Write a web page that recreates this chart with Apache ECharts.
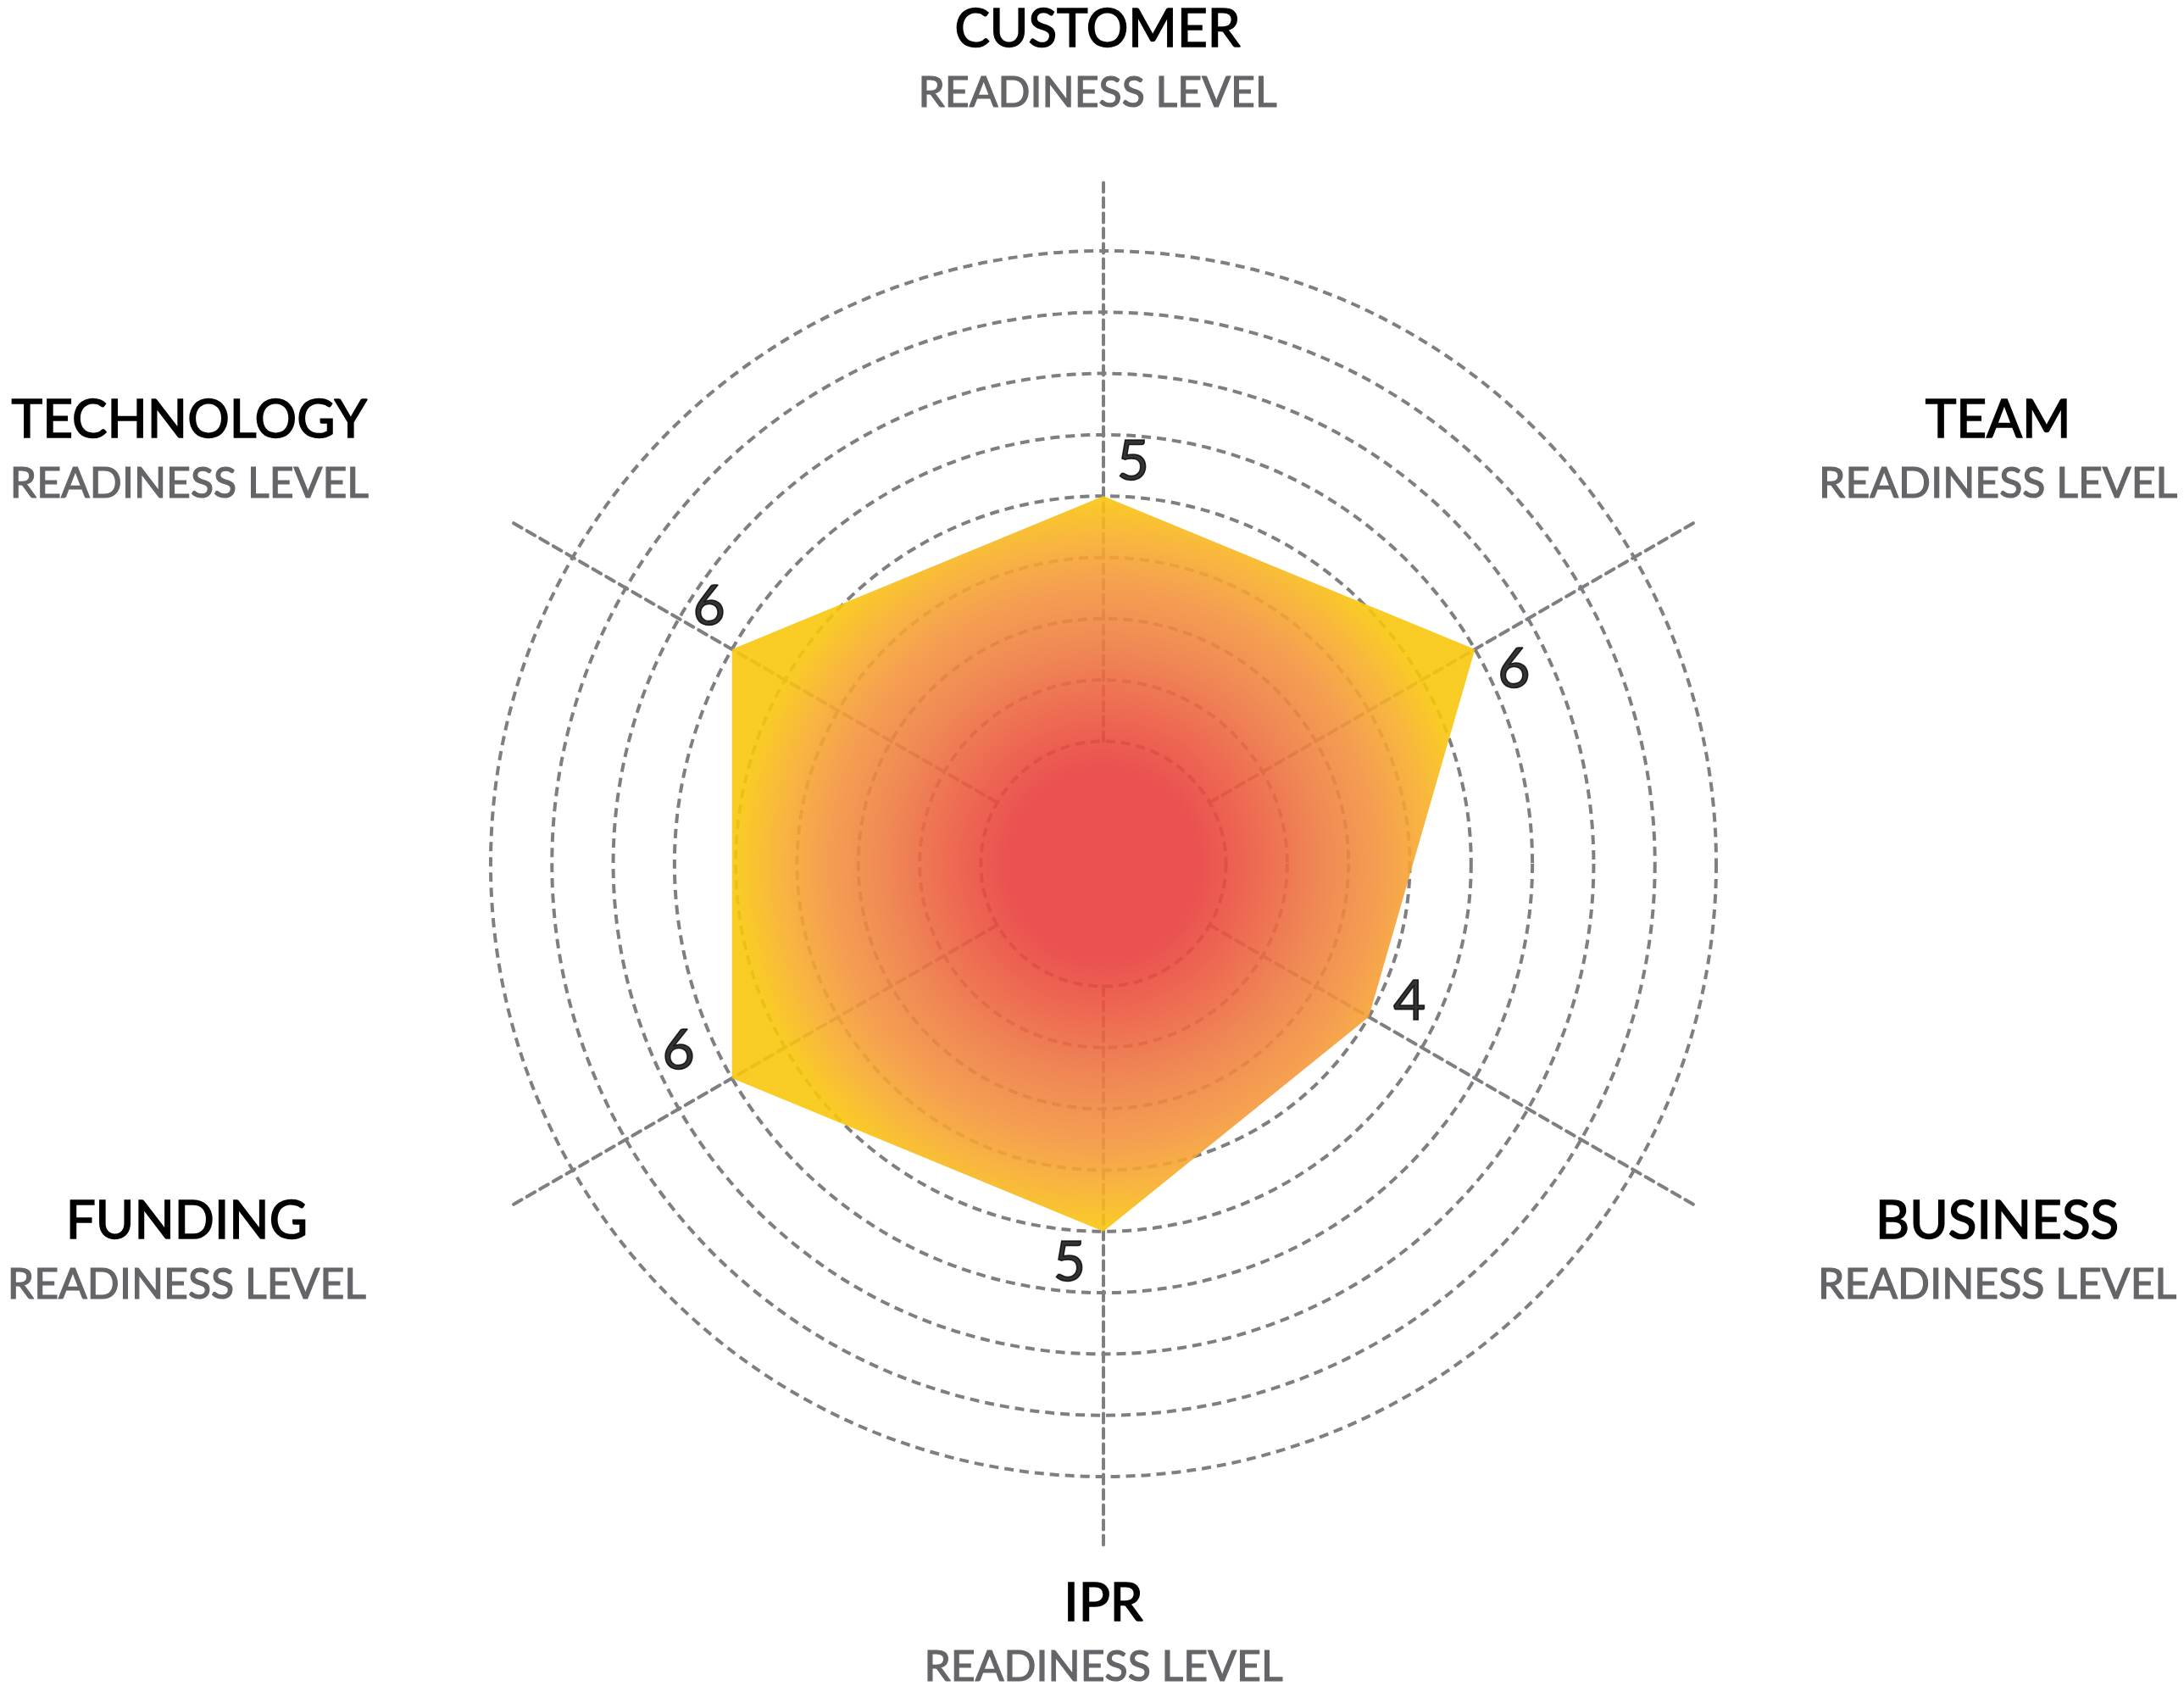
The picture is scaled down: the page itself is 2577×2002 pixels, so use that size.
<!DOCTYPE html>
<html>
<head>
<meta charset="utf-8">
<script src="https://cdn.jsdelivr.net/npm/echarts@6/dist/echarts.min.js"></script>
<style>
  html, body { margin: 0; padding: 0; background: #ffffff; }
  #chart { width: 2577px; height: 2002px; }
</style>
</head>
<body>
<div id="chart"></div>
<script>
// ---- data (indicators listed counter-clockwise from the top, as radar draws them) ----
const CATEGORIES = ['CUSTOMER', 'TECHNOLOGY', 'FUNDING', 'IPR', 'BUSINESS', 'TEAM'];
const SUBTITLE = 'READINESS LEVEL';
const VALUES = [5, 6, 6, 5, 4, 6];
const SCALE_MIN = 1;      // innermost ring
const SCALE_MAX = 10.2;   // end of the dashed spokes
const RING_LEVELS = [1, 2, 3, 4, 5, 6, 7, 8, 9];

// ---- styles / layout ----
const CENTER = [1302, 1019];
const RADIUS = [144.6, 809.8];
const GRID = '#7e7e83';
const DASH = [11, 7];
const FONT = 'Lato, "Open Sans", sans-serif';
const SPLIT_STEP = 0.2;
const SPLITS = Math.round((SCALE_MAX - SCALE_MIN) / SPLIT_STEP);
const ringColors = [];
for (let i = 0; i <= SPLITS + 20; i++) {
  const v = Math.round((SCALE_MIN + i * SPLIT_STEP) * 1000) / 1000;
  ringColors.push(RING_LEVELS.indexOf(v) >= 0 ? GRID : 'rgba(0,0,0,0)');
}
// per-indicator name padding [top,right,bottom,left] for title line and sub line
const NAME_PAD = [
  { t: [0, 14, 0, 0],   s: [0, 14, 44, 0] },    // CUSTOMER
  { t: [6, 130, 0, 0],  s: [0, 130, 152, 0] },  // TECHNOLOGY
  { t: [84, 133, 0, 0], s: [0, 133, 0, 0] },    // FUNDING
  { t: [3, 0, 0, 0],    s: [0, 0, 0, 0] },      // IPR
  { t: [84, 0, 0, 106], s: [0, 0, 0, 106] },    // BUSINESS
  { t: [6, 0, 0, 107],  s: [0, 0, 152, 107] }   // TEAM
];
const VALUE_LABEL_OFFSETS = [[35, -40], [-27, -50], [-63, -32], [-40, 37], [48, -18], [46, 24]];

const rich = {};
NAME_PAD.forEach((p, i) => {
  rich['t' + i] = { fontFamily: FONT, fontSize: 62, color: '#000000', textBorderColor: '#000000', textBorderWidth: 1.6,
    width: 460, height: 80, align: 'center', padding: p.t };
  rich['s' + i] = { fontFamily: FONT, fontSize: 50, color: '#646469', textBorderColor: '#646469', textBorderWidth: 1.2,
    width: 460, height: 70, align: 'center', padding: p.s };
});

const chart = echarts.init(document.getElementById('chart'), null, { renderer: 'canvas' });
chart.setOption({
  animation: false,
  backgroundColor: '#ffffff',
  radar: {
    center: CENTER,
    radius: RADIUS,
    startAngle: 90,
    shape: 'circle',
    splitNumber: SPLITS,
    indicator: CATEGORIES.map(n => ({ name: n, min: SCALE_MIN, max: SCALE_MAX })),
    axisNameGap: 20,
    axisName: {
      formatter: function (name) {
        const i = CATEGORIES.indexOf(name);
        return '{t' + i + '|' + name + '}\n{s' + i + '|' + SUBTITLE + '}';
      },
      rich: rich
    },
    axisLine: { show: true, lineStyle: { color: GRID, width: 4, type: DASH } },
    splitLine: { show: true, lineStyle: { color: ringColors, width: 4, type: DASH } },
    splitArea: { show: false },
    axisTick: { show: false },
    axisLabel: { show: false }
  },
  polar: { center: CENTER, radius: RADIUS },
  angleAxis: { type: 'category', data: CATEGORIES, startAngle: 90, clockwise: false, boundaryGap: false, show: false },
  radiusAxis: { type: 'value', min: SCALE_MIN, max: SCALE_MAX, show: false },
  series: [
    {
      type: 'radar',
      silent: true,
      symbol: 'none',
      lineStyle: { width: 0, opacity: 0 },
      areaStyle: {
        opacity: 0.9,
        color: new echarts.graphic.RadialGradient(0.5, 0.5, 0.5, [
          { offset: 0, color: '#e83e3d' },
          { offset: 0.26, color: '#e83e3d' },
          { offset: 0.41, color: '#ec593f' },
          { offset: 0.60, color: '#ee7d42' },
          { offset: 0.76, color: '#f4953d' },
          { offset: 0.88, color: '#f8ad2b' },
          { offset: 1, color: '#f8c70c' }
        ])
      },
      data: [{ value: VALUES, name: 'Readiness' }]
    },
    {
      type: 'scatter',
      coordinateSystem: 'polar',
      silent: true,
      symbolSize: 1,
      itemStyle: { color: 'rgba(0,0,0,0)' },
      label: {
        show: true,
        position: 'inside',
        color: '#000000',
        textBorderColor: '#000000',
        textBorderWidth: 1.6,
        fontFamily: FONT,
        fontSize: 66,
        formatter: p => String(p.value[0])
      },
      data: VALUES.map((v, i) => ({ value: [v, i], label: { offset: VALUE_LABEL_OFFSETS[i] } }))
    }
  ]
});
</script>
</body>
</html>
